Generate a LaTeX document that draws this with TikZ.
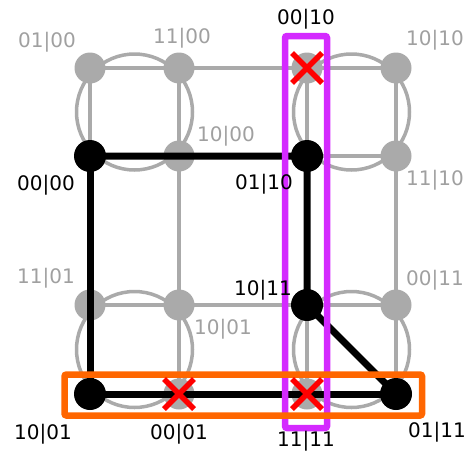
\documentclass[tikz,border=0pt]{standalone}
\usepackage{fontspec}
\setmainfont{DejaVu Sans}
\usetikzlibrary{calc}
\definecolor{gridgray}{RGB}{170,170,170}
\definecolor{lblgray}{RGB}{160,160,160}
\definecolor{hlmag}{RGB}{212,42,255}
\definecolor{hlorange}{RGB}{255,102,0}
\definecolor{xred}{RGB}{255,0,0}
\begin{document}
\begin{tikzpicture}[x=1pt,y=-1pt,
  gline/.style={draw=gridgray,line width=3.5pt},
  gring/.style={draw=gridgray,line width=3.5pt},
  bline/.style={draw=black,line width=7pt},
  gdot/.style={circle,fill=gridgray,minimum size=31pt,inner sep=0pt},
  bdot/.style={circle,fill=black,minimum size=32pt,inner sep=0pt},
  lbl/.style={anchor=base,inner sep=0pt,font=\fontsize{20}{24}\selectfont},
  glbl/.style={lbl,text=lblgray},
  blbl/.style={lbl,text=black},
  xmark/.style={draw=xred,line width=5.5pt},
  hlbox/.style={line width=6.5pt,rounded corners=2pt}]
\useasboundingbox (0,0) rectangle (471,450);
% vertex positions
\coordinate (a11) at (90,68);  \coordinate (a12) at (179,68);  \coordinate (a13) at (307,68);  \coordinate (a14) at (396,68);
\coordinate (a21) at (90,156); \coordinate (a22) at (179,156); \coordinate (a23) at (307,156); \coordinate (a24) at (396,156);
\coordinate (a31) at (90,305); \coordinate (a32) at (179,305); \coordinate (a33) at (307,305); \coordinate (a34) at (396,305);
\coordinate (a41) at (90,394); \coordinate (a42) at (179,394); \coordinate (a43) at (307,394); \coordinate (a44) at (396,394);
% gray grid
\foreach \r in {1,2,3,4}{\draw[gline] (a\r1) -- (a\r4);}
\foreach \c in {1,2,3,4}{\draw[gline] (a1\c) -- (a4\c);}
% rings
\draw[gring] ($(a11)!0.5!(a22)$) circle[radius=58];
\draw[gring] ($(a13)!0.5!(a24)$) circle[radius=58];
\draw[gring] ($(a31)!0.5!(a42)$) circle[radius=58];
\draw[gring] ($(a33)!0.5!(a44)$) circle[radius=58];
% gray vertices
\foreach \p in {a11,a12,a13,a14,a22,a24,a31,a32,a34,a42,a43}{\node[gdot] (v\p) at (\p) {};}
% black path
\draw[bline] (a21) -- (a23) -- (a33) -- (a44);
\draw[bline] (a21) -- (a41) -- (a44);
% black vertices
\foreach \p in {a21,a23,a33,a41,a44}{\node[bdot] (v\p) at (\p) {};}
% highlight boxes
\draw[hlbox,draw=hlmag] (285,36) rectangle (327,428);
\draw[hlbox,draw=hlorange] (64.5,374.5) rectangle (422,415.5);
% red crosses
\foreach \p in {a13,a42,a43}{
  \draw[xmark] ($(\p)+(-15,-15)$) -- ($(\p)+(15,15)$);
  \draw[xmark] ($(\p)+(-15,15)$) -- ($(\p)+(15,-15)$);
}
% labels
\node[glbl] (l11) at (47,47.5) {01|00};
\node[glbl] (l12) at (182,43.5) {11|00};
\node[blbl] (l13) at (306,24.5) {00|10};
\node[glbl] (l14) at (435,45.5) {10|10};
\node[blbl] (l21) at (46,190.5) {00|00};
\node[glbl] (l22) at (226,141.5) {10|00};
\node[blbl] (l23) at (264,189.5) {01|10};
\node[glbl] (l24) at (435,185.5) {11|10};
\node[glbl] (l31) at (46,283.5) {11|01};
\node[glbl] (l32) at (223,334.5) {10|01};
\node[blbl] (l33) at (263,295.5) {10|11};
\node[glbl] (l34) at (435,285.5) {00|11};
\node[blbl] (l41) at (43,439.5) {10|01};
\node[blbl] (l42) at (179,439.5) {00|01};
\node[blbl] (l43) at (306,446.5) {11|11};
\node[blbl] (l44) at (437,437.5) {01|11};
\end{tikzpicture}
\end{document}
